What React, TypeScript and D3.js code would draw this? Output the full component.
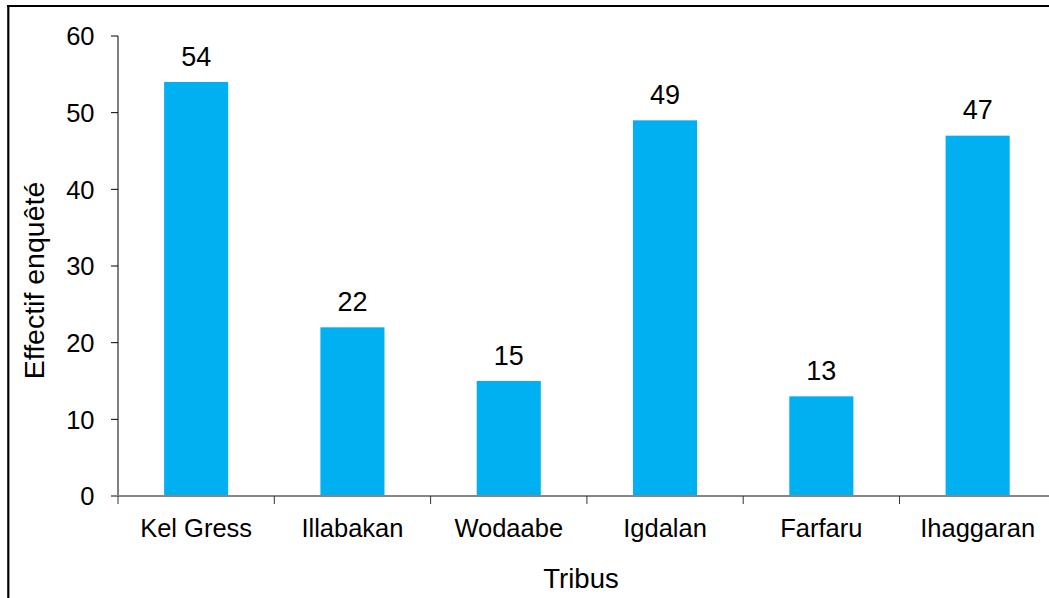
import React from "react";
import * as d3 from "d3";

const categories = ["Kel Gress", "Illabakan", "Wodaabe", "Igdalan", "Farfaru", "Ihaggaran"];
const values = [54, 22, 15, 49, 13, 47];
const yTicks = [0, 10, 20, 30, 40, 50, 60];
const xTitle = "Tribus";
const yTitle = "Effectif enquêté";

const W = 1049;
const H = 598;
const FONT = "'Liberation Sans', Arial, sans-serif";

export default function App() {
  const x0 = 118;
  const band = 156.3;
  const x = d3
    .scaleBand<string>()
    .domain(categories)
    .range([x0, x0 + band * categories.length])
    .paddingInner(0.59)
    .paddingOuter(0.295);
  const y = d3.scaleLinear().domain([0, 60]).range([496, 36]);
  const barW = x.bandwidth();
  const bounds = categories.map((_, i) => x0 + band * (i + 1));

  return (
    <svg
      width={W}
      height={H}
      style={{ position: "absolute", left: 0, top: 0, background: "#fff" }}
      fontFamily={FONT}
    >
      {/* chart frame */}
      <line x1={8.3} x2={8.3} y1={5} y2={H} stroke="#000" strokeWidth={2.2} />
      <line x1={7} x2={W} y1={6} y2={6} stroke="#000" strokeWidth={2.2} />

      {/* bars */}
      {values.map((v, i) => (
        <rect
          key={categories[i]}
          x={x(categories[i])}
          y={y(v)}
          width={barW}
          height={y(0) - y(v)}
          fill="#00B0F0"
        />
      ))}

      {/* value labels */}
      {values.map((v, i) => (
        <text
          key={"l" + i}
          x={(x(categories[i]) as number) + barW / 2}
          y={y(v) - 16.5}
          textAnchor="middle"
          fontSize={27}
          fill="#000"
        >
          {v}
        </text>
      ))}

      {/* y axis */}
      <line x1={x0} x2={x0} y1={y(60)} y2={y(0)} stroke="#000" strokeWidth={1} />
      {yTicks.map((t) => (
        <g key={t}>
          <line x1={111} x2={x0} y1={y(t)} y2={y(t)} stroke="#000" strokeWidth={1} />
          <text
            x={94.5}
            y={y(t)}
            dy="0.36em"
            textAnchor="end"
            fontSize={25.5}
            fill="#000"
          >
            {t}
          </text>
        </g>
      ))}

      {/* x axis */}
      <line x1={111} x2={W} y1={y(0)} y2={y(0)} stroke="#868686" strokeWidth={2} />
      {[x0, ...bounds].map((b, i) => (
        <line key={"t" + i} x1={b} x2={b} y1={y(0)} y2={y(0) + 8} stroke="#333" strokeWidth={1} />
      ))}
      {categories.map((c) => (
        <text
          key={"c" + c}
          x={(x(c) as number) + barW / 2}
          y={537}
          textAnchor="middle"
          fontSize={25.5}
          fill="#000"
        >
          {c}
        </text>
      ))}

      {/* axis titles */}
      <text x={581} y={588} textAnchor="middle" fontSize={27.5} fill="#000">
        {xTitle}
      </text>
      <text
        transform={`translate(44,280.5) rotate(-90)`}
        textAnchor="middle"
        fontSize={28.5}
        fill="#000"
      >
        {yTitle}
      </text>
    </svg>
  );
}
